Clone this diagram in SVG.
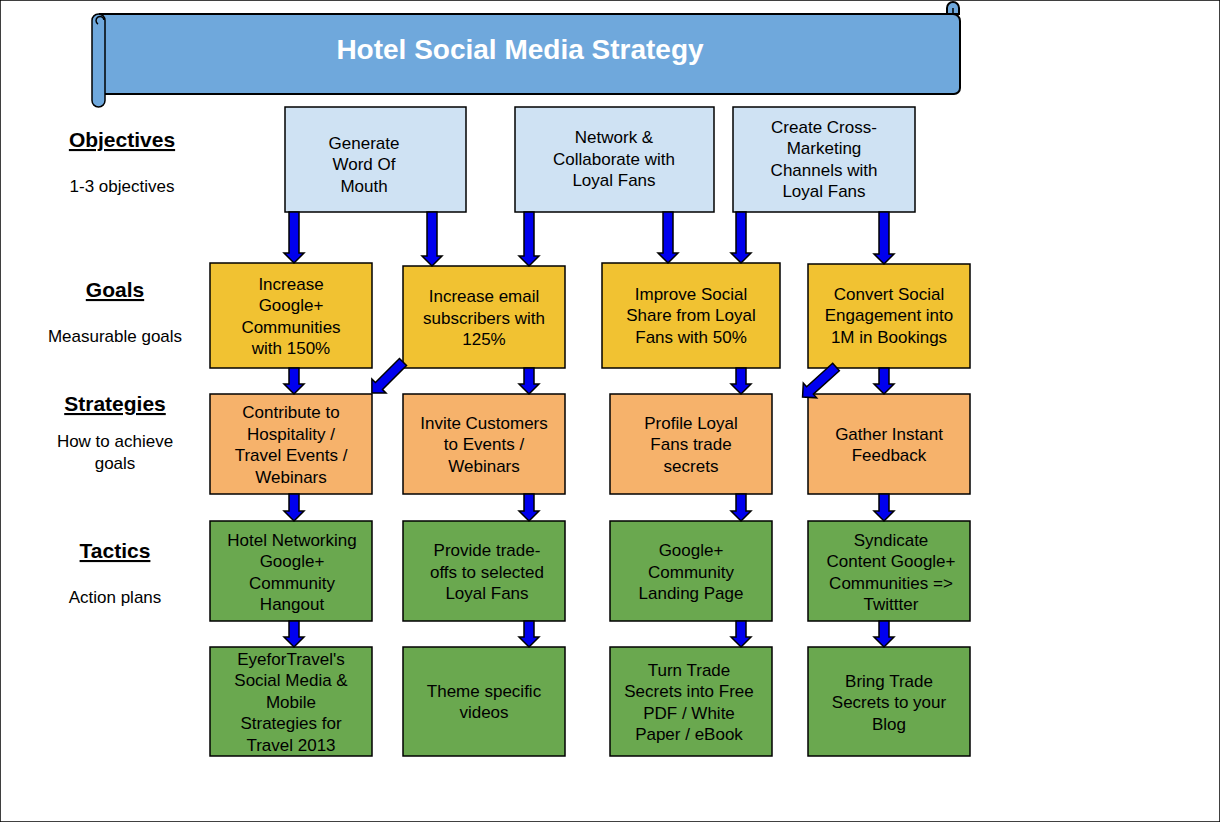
<svg xmlns="http://www.w3.org/2000/svg" width="1220" height="822" viewBox="0 0 1220 822">
<style>
text{font-family:"Liberation Sans",Arial,sans-serif;font-size:17px;fill:#000;text-anchor:middle}
.h{font-size:21px;font-weight:bold;text-decoration:underline}
.s{font-size:17px}
rect{stroke:#000;stroke-width:1.5}
.o{fill:#cfe2f3}.g{fill:#f1c232}.st{fill:#f6b26b}.t{fill:#6aa84f}
.a{fill:#0000ee;stroke:#000;stroke-width:1.5;stroke-linejoin:miter}
</style>
<rect width="1220" height="822" fill="#fff" stroke="none"/>
<g id="banner">
<path d="M100,14 H953 A7,7 0 0 1 960,21 V88 A6,6 0 0 1 954,94 H100 Z" fill="#6fa8dc" stroke="#000" stroke-width="2"/>
<path d="M947,14 V8 A6,6 0 0 1 959,8 V14 Z" fill="#6fa8dc" stroke="#000" stroke-width="2"/>
<path d="M953,14 V8" stroke="#000" stroke-width="1.5"/>
<rect x="92" y="14" width="13" height="93" rx="6.5" fill="#6fa8dc" stroke-width="2"/>
<path d="M98,24 A4,4 0 1 1 104,20" fill="none" stroke="#000" stroke-width="1.5"/>
<text x="520" y="59" style="font-size:28px;font-weight:bold;fill:#fff">Hotel Social Media Strategy</text>
</g>
<g id="labels">
<text x="122" y="147" class="h">Objectives</text><text x="122" y="192" class="s">1-3 objectives</text>
<text x="115" y="297" class="h">Goals</text><text x="115" y="342" class="s">Measurable goals</text>
<text x="115" y="411" class="h">Strategies</text><text x="115" y="447" class="s">How to achieve</text><text x="115" y="469" class="s">goals</text>
<text x="115" y="558" class="h">Tactics</text><text x="115" y="603" class="s">Action plans</text>
</g>
<g id="obj1"><rect class="o" x="285" y="107" width="181" height="105"/><text x="364" y="149">Generate</text><text x="364" y="170">Word Of</text><text x="364" y="192">Mouth</text></g>
<g id="obj2"><rect class="o" x="515" y="107" width="199" height="105"/><text x="614" y="143">Network &amp;</text><text x="614" y="165">Collaborate with</text><text x="614" y="186">Loyal Fans</text></g>
<g id="obj3"><rect class="o" x="733" y="107" width="182" height="105"/><text x="824" y="133">Create Cross-</text><text x="824" y="154">Marketing</text><text x="824" y="176">Channels with</text><text x="824" y="197">Loyal Fans</text></g>
<g id="goal1"><rect class="g" x="210" y="263" width="162" height="105"/><text x="291" y="290">Increase</text><text x="291" y="311">Google+</text><text x="291" y="333">Communities</text><text x="291" y="354">with 150%</text></g>
<g id="goal2"><rect class="g" x="403" y="266" width="162" height="102"/><text x="484" y="302">Increase email</text><text x="484" y="324">subscribers with</text><text x="484" y="345">125%</text></g>
<g id="goal3"><rect class="g" x="602" y="263" width="178" height="105"/><text x="691" y="300">Improve Social</text><text x="691" y="321">Share from Loyal</text><text x="691" y="343">Fans with 50%</text></g>
<g id="goal4"><rect class="g" x="808" y="264" width="162" height="104"/><text x="889" y="300">Convert Social</text><text x="889" y="321">Engagement into</text><text x="889" y="343">1M in Bookings</text></g>
<g id="str1"><rect class="st" x="210" y="394" width="162" height="100"/><text x="291" y="418">Contribute to</text><text x="291" y="440">Hospitality /</text><text x="291" y="461">Travel Events /</text><text x="291" y="483">Webinars</text></g>
<g id="str2"><rect class="st" x="403" y="394" width="162" height="100"/><text x="484" y="429">Invite Customers</text><text x="484" y="450">to Events /</text><text x="484" y="472">Webinars</text></g>
<g id="str3"><rect class="st" x="610" y="394" width="162" height="100"/><text x="691" y="429">Profile Loyal</text><text x="691" y="450">Fans trade</text><text x="691" y="472">secrets</text></g>
<g id="str4"><rect class="st" x="808" y="394" width="162" height="100"/><text x="889" y="440">Gather Instant</text><text x="889" y="461">Feedback</text></g>
<g id="tac1"><rect class="t" x="210" y="521" width="162" height="100"/><text x="292" y="546">Hotel Networking</text><text x="292" y="567">Google+</text><text x="292" y="589">Community</text><text x="292" y="610">Hangout</text></g>
<g id="tac2"><rect class="t" x="403" y="521" width="162" height="100"/><text x="487" y="556">Provide trade-</text><text x="487" y="578">offs to selected</text><text x="487" y="599">Loyal Fans</text></g>
<g id="tac3"><rect class="t" x="610" y="521" width="162" height="100"/><text x="691" y="556">Google+</text><text x="691" y="578">Community</text><text x="691" y="599">Landing Page</text></g>
<g id="tac4"><rect class="t" x="808" y="521" width="162" height="100"/><text x="891" y="546">Syndicate</text><text x="891" y="567">Content Google+</text><text x="891" y="589">Communities =&gt;</text><text x="891" y="610">Twittter</text></g>
<g id="act1"><rect class="t" x="210" y="647" width="162" height="109"/><text x="291" y="665">EyeforTravel's</text><text x="291" y="686">Social Media &amp;</text><text x="291" y="708">Mobile</text><text x="291" y="729">Strategies for</text><text x="291" y="751">Travel 2013</text></g>
<g id="act2"><rect class="t" x="403" y="647" width="162" height="109"/><text x="484" y="697">Theme specific</text><text x="484" y="718">videos</text></g>
<g id="act3"><rect class="t" x="610" y="647" width="162" height="109"/><text x="689" y="676">Turn Trade</text><text x="689" y="697">Secrets into Free</text><text x="689" y="719">PDF / White</text><text x="689" y="740">Paper / eBook</text></g>
<g id="act4"><rect class="t" x="808" y="647" width="162" height="109"/><text x="889" y="687">Bring Trade</text><text x="889" y="708">Secrets to your</text><text x="889" y="730">Blog</text></g>
<g id="connectors">
<polygon class="a" points="289,212 299,212 299,253 304,253 294,263 284,253 289,253"/>
<polygon class="a" points="427,212 437,212 437,256 442,256 432,266 422,256 427,256"/>
<polygon class="a" points="524,212 534,212 534,256 539,256 529,266 519,256 524,256"/>
<polygon class="a" points="663,212 673,212 673,253 678,253 668,263 658,253 663,253"/>
<polygon class="a" points="736,212 746,212 746,253 751,253 741,263 731,253 736,253"/>
<polygon class="a" points="879,212 889,212 889,254 894,254 884,264 874,254 879,254"/>
<polygon class="a" points="289,368 299,368 299,384 304,384 294,394 284,384 289,384"/>
<polygon class="a" points="524,368 534,368 534,384 539,384 529,394 519,384 524,384"/>
<polygon class="a" points="736,368 746,368 746,384 751,384 741,394 731,384 736,384"/>
<polygon class="a" points="879,368 889,368 889,384 894,384 884,394 874,384 879,384"/>
<polygon class="a" transform="translate(403,362) rotate(45)" points="-5,0 5,0 5,34 10,34 0,44 -10,34 -5,34"/>
<polygon class="a" transform="translate(836,367) rotate(48)" points="-5,0 5,0 5,35 10,35 0,45 -10,35 -5,35"/>
<polygon class="a" points="289,494 299,494 299,511 304,511 294,521 284,511 289,511"/>
<polygon class="a" points="524,494 534,494 534,511 539,511 529,521 519,511 524,511"/>
<polygon class="a" points="736,494 746,494 746,511 751,511 741,521 731,511 736,511"/>
<polygon class="a" points="879,494 889,494 889,511 894,511 884,521 874,511 879,511"/>
<polygon class="a" points="289,621 299,621 299,637 304,637 294,647 284,637 289,637"/>
<polygon class="a" points="524,621 534,621 534,637 539,637 529,647 519,637 524,637"/>
<polygon class="a" points="736,621 746,621 746,637 751,637 741,647 731,637 736,637"/>
<polygon class="a" points="879,621 889,621 889,637 894,637 884,647 874,637 879,637"/>
</g>
</svg>
